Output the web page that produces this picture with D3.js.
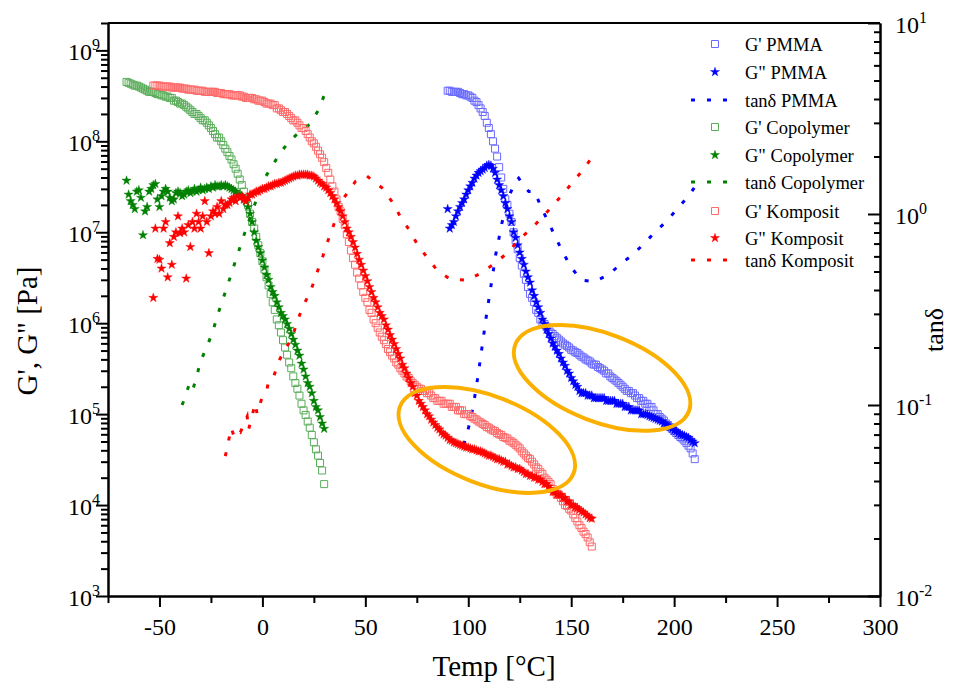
<!DOCTYPE html>
<html>
<head>
<meta charset="utf-8">
<script src="https://cdn.jsdelivr.net/npm/d3@7"></script>
<style>
  body { margin: 0; background: #fff; }
  text { font-family: "Liberation Serif", "Times New Roman", serif; fill: #000; }
</style>
</head>
<body>
<div id="chart"></div>
<script>
// ---- data (temperature in °C, moduli in Pa) ----
const tempPMMA = [
  90, 91, 92, 93, 94, 95, 96, 97, 98, 99,
  100, 101, 102, 103, 104, 105, 106, 107, 108, 109,
  110, 111, 112, 113, 114, 115, 116, 117, 118, 119,
  120, 121, 122, 123, 124, 125, 126, 127, 128, 129,
  130, 131, 132, 133, 134, 135, 136, 137, 138, 139,
  140, 141, 142, 143, 144, 145, 146, 147, 148, 149,
  150, 151, 152, 153, 154, 155, 156, 157, 158, 159,
  160, 161, 162, 163, 164, 165, 166, 167, 168, 169,
  170, 171, 172, 173, 174, 175, 176, 177, 178, 179,
  180, 181, 182, 183, 184, 185, 186, 187, 188, 189,
  190, 191, 192, 193, 194, 195, 196, 197, 198, 199,
  200, 201, 202, 203, 204, 205, 206, 207, 208, 209,
  210];
const gpPMMA = [
  3.6e8, 3.6e8, 3.5e8, 3.5e8, 3.5e8, 3.5e8, 3.4e8, 3.3e8, 3.3e8, 3.2e8,
  3.2e8, 3.1e8, 3.0e8, 2.8e8, 2.7e8, 2.5e8, 2.3e8, 2.1e8, 1.9e8, 1.6e8,
  1.4e8, 1.2e8, 1.0e8, 8.3e7, 6.8e7, 5.2e7, 4.0e7, 3.0e7, 2.3e7, 2.0e7,
  1.6e7, 1.3e7, 1.0e7, 8.1e6, 6.5e6, 5.2e6, 4.3e6, 3.5e6, 3.0e6, 2.5e6,
  2.1e6, 1.9e6, 1.7e6, 1.4e6, 1.3e6, 1.1e6, 1.0e6, 9.8e5, 9.1e5, 8.5e5,
  7.9e5, 7.6e5, 7.2e5, 6.9e5, 6.6e5, 6.3e5, 6.0e5, 5.8e5, 5.6e5, 5.4e5,
  5.1e5, 5.0e5, 4.8e5, 4.7e5, 4.5e5, 4.3e5, 4.2e5, 4.0e5, 3.9e5, 3.8e5,
  3.6e5, 3.5e5, 3.5e5, 3.3e5, 3.2e5, 3.1e5, 3.0e5, 2.8e5, 2.8e5, 2.6e5,
  2.5e5, 2.4e5, 2.3e5, 2.2e5, 2.1e5, 2.0e5, 1.9e5, 1.8e5, 1.8e5, 1.7e5,
  1.7e5, 1.6e5, 1.5e5, 1.5e5, 1.4e5, 1.4e5, 1.3e5, 1.3e5, 1.2e5, 1.2e5,
  1.1e5, 1.0e5, 1.0e5, 9.3e4, 8.9e4, 8.5e4, 7.9e4, 7.6e4, 7.2e4, 6.9e4,
  6.5e4, 6.2e4, 5.9e4, 5.6e4, 5.4e4, 5.1e4, 4.8e4, 4.5e4, 4.2e4, 3.7e4,
  3.2e4];
const gppPMMA = [
  1.8e7, 1.1e7, 1.2e7, 1.3e7, 1.5e7, 1.7e7, 1.9e7, 2.1e7, 2.3e7, 2.6e7,
  2.9e7, 3.2e7, 3.5e7, 3.9e7, 4.2e7, 4.5e7, 4.7e7, 4.9e7, 5.1e7, 5.4e7,
  5.5e7, 5.4e7, 5.0e7, 4.5e7, 3.8e7, 3.3e7, 2.9e7, 2.5e7, 2.1e7, 1.8e7,
  1.5e7, 1.3e7, 1.0e7, 8.7e6, 7.2e6, 6.0e6, 5.1e6, 4.4e6, 3.7e6, 3.2e6,
  2.8e6, 2.3e6, 2.0e6, 1.7e6, 1.5e6, 1.3e6, 1.1e6, 9.8e5, 8.5e5, 7.6e5,
  6.8e5, 6.0e5, 5.5e5, 5.0e5, 4.6e5, 4.1e5, 3.7e5, 3.4e5, 3.0e5, 2.8e5,
  2.5e5, 2.3e5, 2.1e5, 2.0e5, 1.8e5, 1.7e5, 1.7e5, 1.7e5, 1.6e5, 1.6e5,
  1.6e5, 1.5e5, 1.5e5, 1.5e5, 1.5e5, 1.5e5, 1.5e5, 1.4e5, 1.4e5, 1.4e5,
  1.4e5, 1.4e5, 1.3e5, 1.3e5, 1.3e5, 1.3e5, 1.2e5, 1.2e5, 1.2e5, 1.1e5,
  1.1e5, 1.1e5, 1.1e5, 1.1e5, 1.0e5, 1.0e5, 1.0e5, 9.8e4, 9.5e4, 9.3e4,
  9.1e4, 8.9e4, 8.7e4, 8.5e4, 8.3e4, 7.9e4, 7.8e4, 7.4e4, 7.2e4, 6.9e4,
  6.6e4, 6.5e4, 6.2e4, 6.0e4, 5.9e4, 5.8e4, 5.6e4, 5.5e4, 5.2e4, 5.0e4,
  4.8e4];
const tanTempPMMA = [97.8, 99.4, 101, 102.5, 103.8, 105, 106, 107.2, 108.3, 109.6,
  110.7, 112, 113.2, 114.8, 116.4, 118.5, 120.5, 122.5, 124.5, 127,
  129.4, 132.3, 135.3, 138.8, 142.3, 146, 150, 154.8, 161, 168.2,
  173.9, 179.8, 185.2, 190.9, 196.6, 201.7, 207, 210.3];
const tanPMMA = [0.062, 0.071, 0.083, 0.100, 0.123, 0.148, 0.179, 0.219, 0.270, 0.334,
  0.400, 0.490, 0.603, 0.736, 0.902, 1.10, 1.29, 1.45, 1.54, 1.41,
  1.31, 1.31, 1.09, 0.912, 0.760, 0.627, 0.526, 0.451, 0.443, 0.480,
  0.547, 0.610, 0.697, 0.807, 0.923, 1.07, 1.24, 1.40];

const tempCopolymer = [
  -66, -65, -64, -63, -62, -61, -60, -59, -58, -57,
  -56, -55, -54, -53, -52, -51, -50, -49, -48, -47,
  -46, -45, -44, -43, -42, -41, -40, -39, -38, -37,
  -36, -35, -34, -33, -32, -31, -30, -29, -28, -27,
  -26, -25, -24, -23, -22, -21, -20, -19, -18, -17,
  -16, -15, -14, -13, -12, -11, -10, -9, -8, -7,
  -6, -5, -4, -3, -2, -1, 0, 1, 2, 3,
  4, 5, 6, 7, 8, 9, 10, 11, 12, 13,
  14, 15, 16, 17, 18, 19, 20, 21, 22, 23,
  24, 25, 26, 27, 28, 29, 30];
const gpCopolymer = [
  4.5e8, 4.4e8, 4.3e8, 4.2e8, 4.1e8, 4.1e8, 4.0e8, 3.9e8, 3.8e8, 3.7e8,
  3.6e8, 3.5e8, 3.5e8, 3.5e8, 3.4e8, 3.3e8, 3.3e8, 3.2e8, 3.2e8, 3.1e8,
  3.1e8, 3.0e8, 3.0e8, 2.8e8, 2.8e8, 2.7e8, 2.6e8, 2.6e8, 2.5e8, 2.4e8,
  2.3e8, 2.2e8, 2.1e8, 2.0e8, 2.0e8, 1.9e8, 1.8e8, 1.7e8, 1.7e8, 1.6e8,
  1.5e8, 1.4e8, 1.3e8, 1.2e8, 1.1e8, 1.1e8, 1.0e8, 9.1e7, 8.3e7, 7.6e7,
  6.9e7, 6.3e7, 5.6e7, 5.0e7, 4.4e7, 3.8e7, 3.3e7, 2.8e7, 2.3e7, 2.0e7,
  1.6e7, 1.3e7, 1.1e7, 8.9e6, 7.2e6, 5.9e6, 4.8e6, 3.9e6, 3.2e6, 2.6e6,
  2.1e6, 1.7e6, 1.4e6, 1.1e6, 9.5e5, 7.9e5, 6.5e5, 5.4e5, 4.5e5, 3.7e5,
  3.2e5, 2.6e5, 2.2e5, 1.9e5, 1.6e5, 1.3e5, 1.1e5, 9.8e4, 8.3e4, 7.1e4,
  5.9e4, 4.9e4, 4.1e4, 3.5e4, 2.9e4, 2.4e4, 1.7e4];
const gppCopolymer = [
  3.7e7, 2.6e7, 2.2e7, 2.0e7, 1.8e7, 2.8e7, 2.9e7, 2.4e7, 9.3e6, 1.7e7,
  1.9e7, 2.8e7, 3.0e7, 3.3e7, 3.4e7, 2.3e7, 1.9e7, 2.5e7, 2.8e7, 3.0e7,
  2.8e7, 2.4e7, 2.2e7, 2.3e7, 2.7e7, 2.8e7, 2.7e7, 2.5e7, 2.6e7, 2.8e7,
  2.9e7, 2.7e7, 2.8e7, 3.0e7, 2.8e7, 2.9e7, 3.1e7, 2.9e7, 3.0e7, 3.1e7,
  3.0e7, 3.2e7, 3.1e7, 3.3e7, 3.2e7, 3.2e7, 3.3e7, 3.2e7, 3.3e7, 3.2e7,
  3.1e7, 3.0e7, 2.9e7, 2.8e7, 2.6e7, 2.6e7, 2.5e7, 2.3e7, 2.2e7, 1.9e7,
  1.6e7, 1.3e7, 1.0e7, 8.1e6, 6.9e6, 5.9e6, 4.9e6, 4.1e6, 3.4e6, 3.0e6,
  2.5e6, 2.2e6, 2.0e6, 1.7e6, 1.5e6, 1.3e6, 1.2e6, 1.1e6, 9.8e5, 8.7e5,
  7.6e5, 6.6e5, 5.8e5, 5.0e5, 4.4e5, 3.6e5, 3.1e5, 2.6e5, 2.2e5, 2.0e5,
  1.7e5, 1.4e5, 1.2e5, 1.1e5, 9.3e4, 7.9e4, 6.9e4];
const tanTempCopolymer = [-39, -37.5, -35.8, -34.1, -31.7, -30.1, -26.9, -24, -21.5, -17.1,
  -13.5, -9.1, -4, 0.6, 4.7, 8.7, 13, 18, 23, 27, 30];
const tanCopolymer = [0.100, 0.110, 0.126, 0.117, 0.144, 0.169, 0.202, 0.245, 0.302, 0.417,
  0.550, 0.767, 1.10, 1.51, 1.78, 2.09, 2.40, 2.69, 2.95, 3.47, 4.17];

const tempKomposit = [
  -53, -52, -51, -50, -49, -48, -47, -46, -45, -44,
  -43, -42, -41, -40, -39, -38, -37, -36, -35, -34,
  -33, -32, -31, -30, -29, -28, -27, -26, -25, -24,
  -23, -22, -21, -20, -19, -18, -17, -16, -15, -14,
  -13, -12, -11, -10, -9, -8, -7, -6, -5, -4,
  -3, -2, -1, 0, 1, 2, 3, 4, 5, 6,
  7, 8, 9, 10, 11, 12, 13, 14, 15, 16,
  17, 18, 19, 20, 21, 22, 23, 24, 25, 26,
  27, 28, 29, 30, 31, 32, 33, 34, 35, 36,
  37, 38, 39, 40, 41, 42, 43, 44, 45, 46,
  47, 48, 49, 50, 51, 52, 53, 54, 55, 56,
  57, 58, 59, 60, 61, 62, 63, 64, 65, 66,
  67, 68, 69, 70, 71, 72, 73, 74, 75, 76,
  77, 78, 79, 80, 81, 82, 83, 84, 85, 86,
  87, 88, 89, 90, 91, 92, 93, 94, 95, 96,
  97, 98, 99, 100, 101, 102, 103, 104, 105, 106,
  107, 108, 109, 110, 111, 112, 113, 114, 115, 116,
  117, 118, 119, 120, 121, 122, 123, 124, 125, 126,
  127, 128, 129, 130, 131, 132, 133, 134, 135, 136,
  137, 138, 139, 140, 141, 142, 143, 144, 145, 146,
  147, 148, 149, 150, 151, 152, 153, 154, 155, 156,
  157, 158, 159, 160];
const gpKomposit = [
  4.1e8, 4.1e8, 4.1e8, 4.1e8, 4.0e8, 4.0e8, 4.0e8, 4.0e8, 4.0e8, 3.9e8,
  3.9e8, 3.9e8, 3.9e8, 3.9e8, 3.8e8, 3.8e8, 3.8e8, 3.7e8, 3.7e8, 3.7e8,
  3.7e8, 3.6e8, 3.6e8, 3.6e8, 3.6e8, 3.5e8, 3.5e8, 3.5e8, 3.5e8, 3.5e8,
  3.5e8, 3.4e8, 3.4e8, 3.4e8, 3.3e8, 3.3e8, 3.3e8, 3.3e8, 3.2e8, 3.2e8,
  3.2e8, 3.2e8, 3.2e8, 3.1e8, 3.1e8, 3.0e8, 3.0e8, 3.0e8, 3.0e8, 2.9e8,
  2.9e8, 2.8e8, 2.8e8, 2.8e8, 2.7e8, 2.6e8, 2.6e8, 2.6e8, 2.5e8, 2.5e8,
  2.3e8, 2.3e8, 2.2e8, 2.1e8, 2.1e8, 2.0e8, 1.9e8, 1.8e8, 1.7e8, 1.7e8,
  1.6e8, 1.5e8, 1.4e8, 1.4e8, 1.3e8, 1.2e8, 1.1e8, 1.0e8, 9.5e7, 8.7e7,
  7.9e7, 7.2e7, 6.6e7, 5.9e7, 5.1e7, 4.5e7, 3.8e7, 3.2e7, 2.8e7, 2.3e7,
  1.9e7, 1.7e7, 1.4e7, 1.2e7, 9.5e6, 7.8e6, 6.3e6, 5.2e6, 4.4e6, 3.6e6,
  3.1e6, 2.6e6, 2.2e6, 1.9e6, 1.7e6, 1.4e6, 1.3e6, 1.1e6, 1.0e6, 8.9e5,
  7.9e5, 7.1e5, 6.5e5, 5.9e5, 5.2e5, 4.8e5, 4.4e5, 4.1e5, 3.7e5, 3.5e5,
  3.2e5, 3.0e5, 2.8e5, 2.6e5, 2.5e5, 2.3e5, 2.2e5, 2.1e5, 2.0e5, 1.9e5,
  1.9e5, 1.8e5, 1.8e5, 1.7e5, 1.7e5, 1.6e5, 1.5e5, 1.5e5, 1.4e5, 1.4e5,
  1.4e5, 1.3e5, 1.3e5, 1.3e5, 1.3e5, 1.2e5, 1.2e5, 1.2e5, 1.1e5, 1.1e5,
  1.1e5, 1.0e5, 1.0e5, 1.0e5, 9.5e4, 9.3e4, 8.9e4, 8.7e4, 8.3e4, 8.1e4,
  7.8e4, 7.6e4, 7.2e4, 7.1e4, 6.8e4, 6.6e4, 6.5e4, 6.2e4, 6.0e4, 5.9e4,
  5.6e4, 5.5e4, 5.4e4, 5.1e4, 5.0e4, 4.8e4, 4.6e4, 4.4e4, 4.2e4, 3.9e4,
  3.7e4, 3.5e4, 3.3e4, 3.2e4, 3.0e4, 2.8e4, 2.6e4, 2.5e4, 2.3e4, 2.2e4,
  2.0e4, 1.9e4, 1.8e4, 1.7e4, 1.5e4, 1.4e4, 1.3e4, 1.3e4, 1.2e4, 1.1e4,
  1.0e4, 9.8e3, 9.1e3, 8.7e3, 7.9e3, 7.2e3, 6.6e3, 6.0e3, 5.6e3, 5.1e3,
  4.8e3, 4.4e3, 3.9e3, 3.5e3];
const gppKomposit = [
  1.9e6, 1.1e7, 5.1e6, 5.0e6, 4.0e6, 1.1e7, 1.3e7, 3.2e6, 7.6e6, 4.4e6,
  8.9e6, 1.0e7, 1.5e7, 9.8e6, 1.1e7, 1.0e7, 3.1e6, 1.2e7, 6.9e6, 1.3e7,
  1.1e7, 1.6e7, 1.3e7, 1.1e7, 1.5e7, 2.2e7, 1.3e7, 5.9e6, 1.5e7, 1.7e7,
  1.6e7, 1.9e7, 1.6e7, 2.2e7, 1.8e7, 2.0e7, 2.0e7, 2.1e7, 2.3e7, 2.4e7,
  2.2e7, 2.5e7, 2.4e7, 2.5e7, 2.3e7, 2.2e7, 2.4e7, 2.6e7, 2.6e7, 2.7e7,
  2.8e7, 2.8e7, 2.9e7, 3.0e7, 3.0e7, 3.1e7, 3.2e7, 3.2e7, 3.3e7, 3.4e7,
  3.4e7, 3.5e7, 3.5e7, 3.6e7, 3.7e7, 3.8e7, 3.9e7, 4.0e7, 4.1e7, 4.2e7,
  4.2e7, 4.3e7, 4.3e7, 4.3e7, 4.3e7, 4.3e7, 4.2e7, 4.2e7, 4.1e7, 3.9e7,
  3.7e7, 3.5e7, 3.4e7, 3.2e7, 3.1e7, 2.9e7, 2.7e7, 2.5e7, 2.3e7, 2.1e7,
  1.9e7, 1.7e7, 1.5e7, 1.3e7, 1.1e7, 1.0e7, 8.9e6, 7.8e6, 6.8e6, 5.8e6,
  5.0e6, 4.4e6, 3.8e6, 3.3e6, 2.9e6, 2.5e6, 2.2e6, 1.9e6, 1.7e6, 1.5e6,
  1.3e6, 1.2e6, 1.1e6, 9.5e5, 8.5e5, 7.4e5, 6.6e5, 5.9e5, 5.2e5, 4.6e5,
  4.1e5, 3.5e5, 3.2e5, 2.8e5, 2.5e5, 2.2e5, 2.0e5, 1.7e5, 1.6e5, 1.4e5,
  1.3e5, 1.2e5, 1.1e5, 1.0e5, 9.5e4, 8.7e4, 8.1e4, 7.6e4, 7.1e4, 6.8e4,
  6.3e4, 6.0e4, 5.8e4, 5.5e4, 5.2e4, 5.1e4, 4.9e4, 4.8e4, 4.7e4, 4.6e4,
  4.5e4, 4.4e4, 4.3e4, 4.3e4, 4.2e4, 4.1e4, 4.1e4, 4.0e4, 3.9e4, 3.9e4,
  3.8e4, 3.7e4, 3.6e4, 3.5e4, 3.5e4, 3.4e4, 3.3e4, 3.2e4, 3.2e4, 3.1e4,
  3.0e4, 3.0e4, 2.8e4, 2.8e4, 2.7e4, 2.6e4, 2.6e4, 2.5e4, 2.5e4, 2.4e4,
  2.3e4, 2.2e4, 2.2e4, 2.1e4, 2.1e4, 2.0e4, 2.0e4, 1.9e4, 1.9e4, 1.8e4,
  1.7e4, 1.7e4, 1.6e4, 1.5e4, 1.4e4, 1.4e4, 1.3e4, 1.3e4, 1.3e4, 1.2e4,
  1.2e4, 1.1e4, 1.1e4, 1.0e4, 1.0e4, 9.5e3, 9.3e3, 8.9e3, 8.5e3, 8.3e3,
  7.9e3, 7.6e3, 7.2e3, 7.1e3];
const tanTempKomposit = [-18, -16.7, -15.1, -13.9, -12.3, -10.7, -7.4, -6.7, -5.8, -3.4,
  -2.6, -0.1, 2.3, 3.1, 5.5, 7.9, 11.2, 14.4, 16.8, 20.1,
  23.3, 26.6, 29.4, 31.4, 33.9, 36.7, 39.5, 42.5, 45.2, 50.8,
  58.1, 63, 67, 71.9, 75.1, 80, 84.8, 91.3, 99.4, 106.7,
  112.3, 118.8, 124.5, 130.2, 135.8, 141.2, 146.3, 151.2, 156, 160.6];
const tanKomposit = [0.054, 0.063, 0.076, 0.069, 0.074, 0.072, 0.087, 0.074, 0.082, 0.102,
  0.090, 0.110, 0.122, 0.135, 0.141, 0.169, 0.198, 0.223, 0.273, 0.335,
  0.392, 0.495, 0.603, 0.703, 0.832, 1.02, 1.21, 1.35, 1.48, 1.58,
  1.37, 1.16, 0.968, 0.807, 0.697, 0.593, 0.509, 0.455, 0.451, 0.493,
  0.547, 0.622, 0.731, 0.832, 0.957, 1.11, 1.28, 1.49, 1.71, 2.02];

// axis ticks
const xMajorTicks = [-50, 0, 50, 100, 150, 200, 250, 300];
const xMinorTicks = [-75, -25, 25, 75, 125, 175, 225, 275];
const gTicks = [1e3, 1e4, 1e5, 1e6, 1e7, 1e8, 1e9];
const tanTicks = [0.01, 0.1, 1, 10];

// the two highlighted regions (centre in data units)
const highlightCenters = [[109, 5.2e4], [165, 2.5e5]];

const series = [
  { name: "G' PMMA", kind: 'gp', color: '#6a6aff', temps: tempPMMA, values: gpPMMA },
  { name: 'G" PMMA', kind: 'gpp', color: '#0000ff', temps: tempPMMA, values: gppPMMA },
  { name: 'tanδ PMMA', kind: 'tan', color: '#0000ff', temps: tanTempPMMA, values: tanPMMA },
  { name: "G' Copolymer", kind: 'gp', color: '#5aad5a', temps: tempCopolymer, values: gpCopolymer },
  { name: 'G" Copolymer', kind: 'gpp', color: '#008000', temps: tempCopolymer, values: gppCopolymer },
  { name: 'tanδ Copolymer', kind: 'tan', color: '#008000', temps: tanTempCopolymer, values: tanCopolymer },
  { name: "G' Komposit", kind: 'gp', color: '#ff6a6a', temps: tempKomposit, values: gpKomposit },
  { name: 'G" Komposit', kind: 'gpp', color: '#ff0000', temps: tempKomposit, values: gppKomposit },
  { name: 'tanδ Komposit', kind: 'tan', color: '#ff0000', temps: tanTempKomposit, values: tanKomposit }
];

const W = 974, H = 691;
const x = d3.scaleLinear().domain([-75, 300]).range([108, 880]);
const yL = d3.scaleLog().domain([1e3, 2e9]).range([596, 23]);
const yR = d3.scaleLog().domain([0.01, 10]).range([596, 23]);

const svg = d3.select('#chart').append('svg')
  .attr('width', W).attr('height', H)
  .style('background', '#fff');

const squareSym = d3.symbol(d3.symbolSquare, 49)();
const starSym = d3.symbol(d3.symbolStar, 26)();
const tanLine = d3.line().x(d => x(d[0])).y(d => yR(d[1]));
const dash = '4,12';

// data
const plot = svg.append('g');
series.forEach(s => {
  const pts = s.temps.map((t, i) => [t, s.values[i]]);
  if (s.kind === 'tan') {
    plot.append('path').datum(pts)
      .attr('d', tanLine)
      .attr('fill', 'none')
      .attr('stroke', s.color)
      .attr('stroke-width', 3)
      .attr('stroke-dasharray', dash);
  } else {
    plot.append('g').selectAll('path').data(pts).join('path')
      .attr('transform', d => `translate(${x(d[0])},${yL(d[1])})`)
      .attr('d', s.kind === 'gp' ? squareSym : starSym)
      .attr('fill', s.kind === 'gp' ? 'none' : s.color)
      .attr('stroke', s.color)
      .attr('stroke-width', s.kind === 'gp' ? 1 : 0.4);
  }
});

// orange ellipses
svg.append('g').selectAll('ellipse').data(highlightCenters).join('ellipse')
  .attr('cx', d => x(d[0]))
  .attr('cy', d => yL(d[1]))
  .attr('rx', 93)
  .attr('ry', 44)
  .attr('transform', d => `rotate(21, ${x(d[0])}, ${yL(d[1])})`)
  .attr('fill', 'none')
  .attr('stroke', '#fbb000')
  .attr('stroke-width', 4);

// axes
function styleAxis(g) {
  g.attr('font-family', null).attr('font-size', null);
  g.select('.domain').attr('stroke-width', 2);
  g.selectAll('.tick line').attr('stroke-width', 2);
}
function isDecade(v) {
  const l = Math.log10(v);
  return Math.abs(l - Math.round(l)) < 1e-6;
}
function powLabel(g, v, anchor, dx) {
  const t = g.append('text')
    .attr('x', dx).attr('y', 9)
    .attr('text-anchor', anchor)
    .attr('font-size', 24);
  t.append('tspan').text('10');
  t.append('tspan').attr('dy', -10).attr('font-size', 16)
    .text(String(Math.round(Math.log10(v))));
}

// bottom
svg.append('g').attr('transform', 'translate(0,596)')
  .call(d3.axisBottom(x).tickValues(xMinorTicks).tickSize(7).tickSizeOuter(0).tickFormat(''))
  .call(styleAxis);
svg.append('g').attr('transform', 'translate(0,596)')
  .call(d3.axisBottom(x).tickValues(xMajorTicks).tickSize(11).tickSizeOuter(0).tickPadding(11)
    .tickFormat(d => String(d)))
  .call(styleAxis)
  .selectAll('text').attr('font-size', 24);

// left (G', G")
const gMinor = yL.ticks().filter(v => !isDecade(v));
svg.append('g').attr('transform', 'translate(108,0)')
  .call(d3.axisLeft(yL).tickValues(gMinor).tickSize(7).tickSizeOuter(0).tickFormat(''))
  .call(styleAxis);
svg.append('g').attr('transform', 'translate(108,0)')
  .call(d3.axisLeft(yL).tickValues(gTicks).tickSize(12).tickSizeOuter(0).tickFormat(''))
  .call(styleAxis)
  .selectAll('.tick').each(function (d) { powLabel(d3.select(this), d, 'end', -8); });

// right (tanδ), ticks point inwards
const tanMinor = yR.ticks().filter(v => !isDecade(v));
svg.append('g').attr('transform', 'translate(880,0)')
  .call(d3.axisRight(yR).tickValues(tanMinor).tickSize(-6).tickSizeOuter(0).tickFormat(''))
  .call(styleAxis);
svg.append('g').attr('transform', 'translate(880,0)')
  .call(d3.axisRight(yR).tickValues(tanTicks).tickSize(-12).tickSizeOuter(0).tickFormat(''))
  .call(styleAxis)
  .selectAll('.tick').each(function (d) { powLabel(d3.select(this), d, 'start', 15); });

// top frame
svg.append('line')
  .attr('x1', x.range()[0]).attr('x2', x.range()[1])
  .attr('y1', yL.range()[1]).attr('y2', yL.range()[1])
  .attr('stroke', '#000').attr('stroke-width', 2);

// axis titles
svg.append('text')
  .attr('transform', 'translate(37,331) rotate(-90)')
  .attr('text-anchor', 'middle')
  .attr('font-size', 29)
  .text('G\', G" [Pa]');
svg.append('text')
  .attr('x', 494).attr('y', 676)
  .attr('text-anchor', 'middle')
  .attr('font-size', 29)
  .text('Temp [°C]');
svg.append('text')
  .attr('transform', 'translate(943,330) rotate(-90)')
  .attr('text-anchor', 'middle')
  .attr('font-size', 26)
  .text('tanδ');

// legend
const legendRowY = [44, 72, 100, 127, 155, 182, 211, 238, 260];
const legend = svg.append('g');
series.forEach((s, i) => {
  const ly = legendRowY[i];
  if (s.kind === 'tan') {
    legend.append('line')
      .attr('x1', 691).attr('x2', 731).attr('y1', ly).attr('y2', ly)
      .attr('stroke', s.color).attr('stroke-width', 3)
      .attr('stroke-dasharray', dash);
  } else {
    legend.append('path')
      .attr('transform', `translate(715,${ly})`)
      .attr('d', s.kind === 'gp' ? squareSym : starSym)
      .attr('fill', s.kind === 'gp' ? 'none' : s.color)
      .attr('stroke', s.color)
      .attr('stroke-width', s.kind === 'gp' ? 1 : 0.4);
  }
  legend.append('text')
    .attr('x', 745).attr('y', ly + 6.5)
    .attr('font-size', 18.5)
    .text(s.name);
});
</script>
</body>
</html>
